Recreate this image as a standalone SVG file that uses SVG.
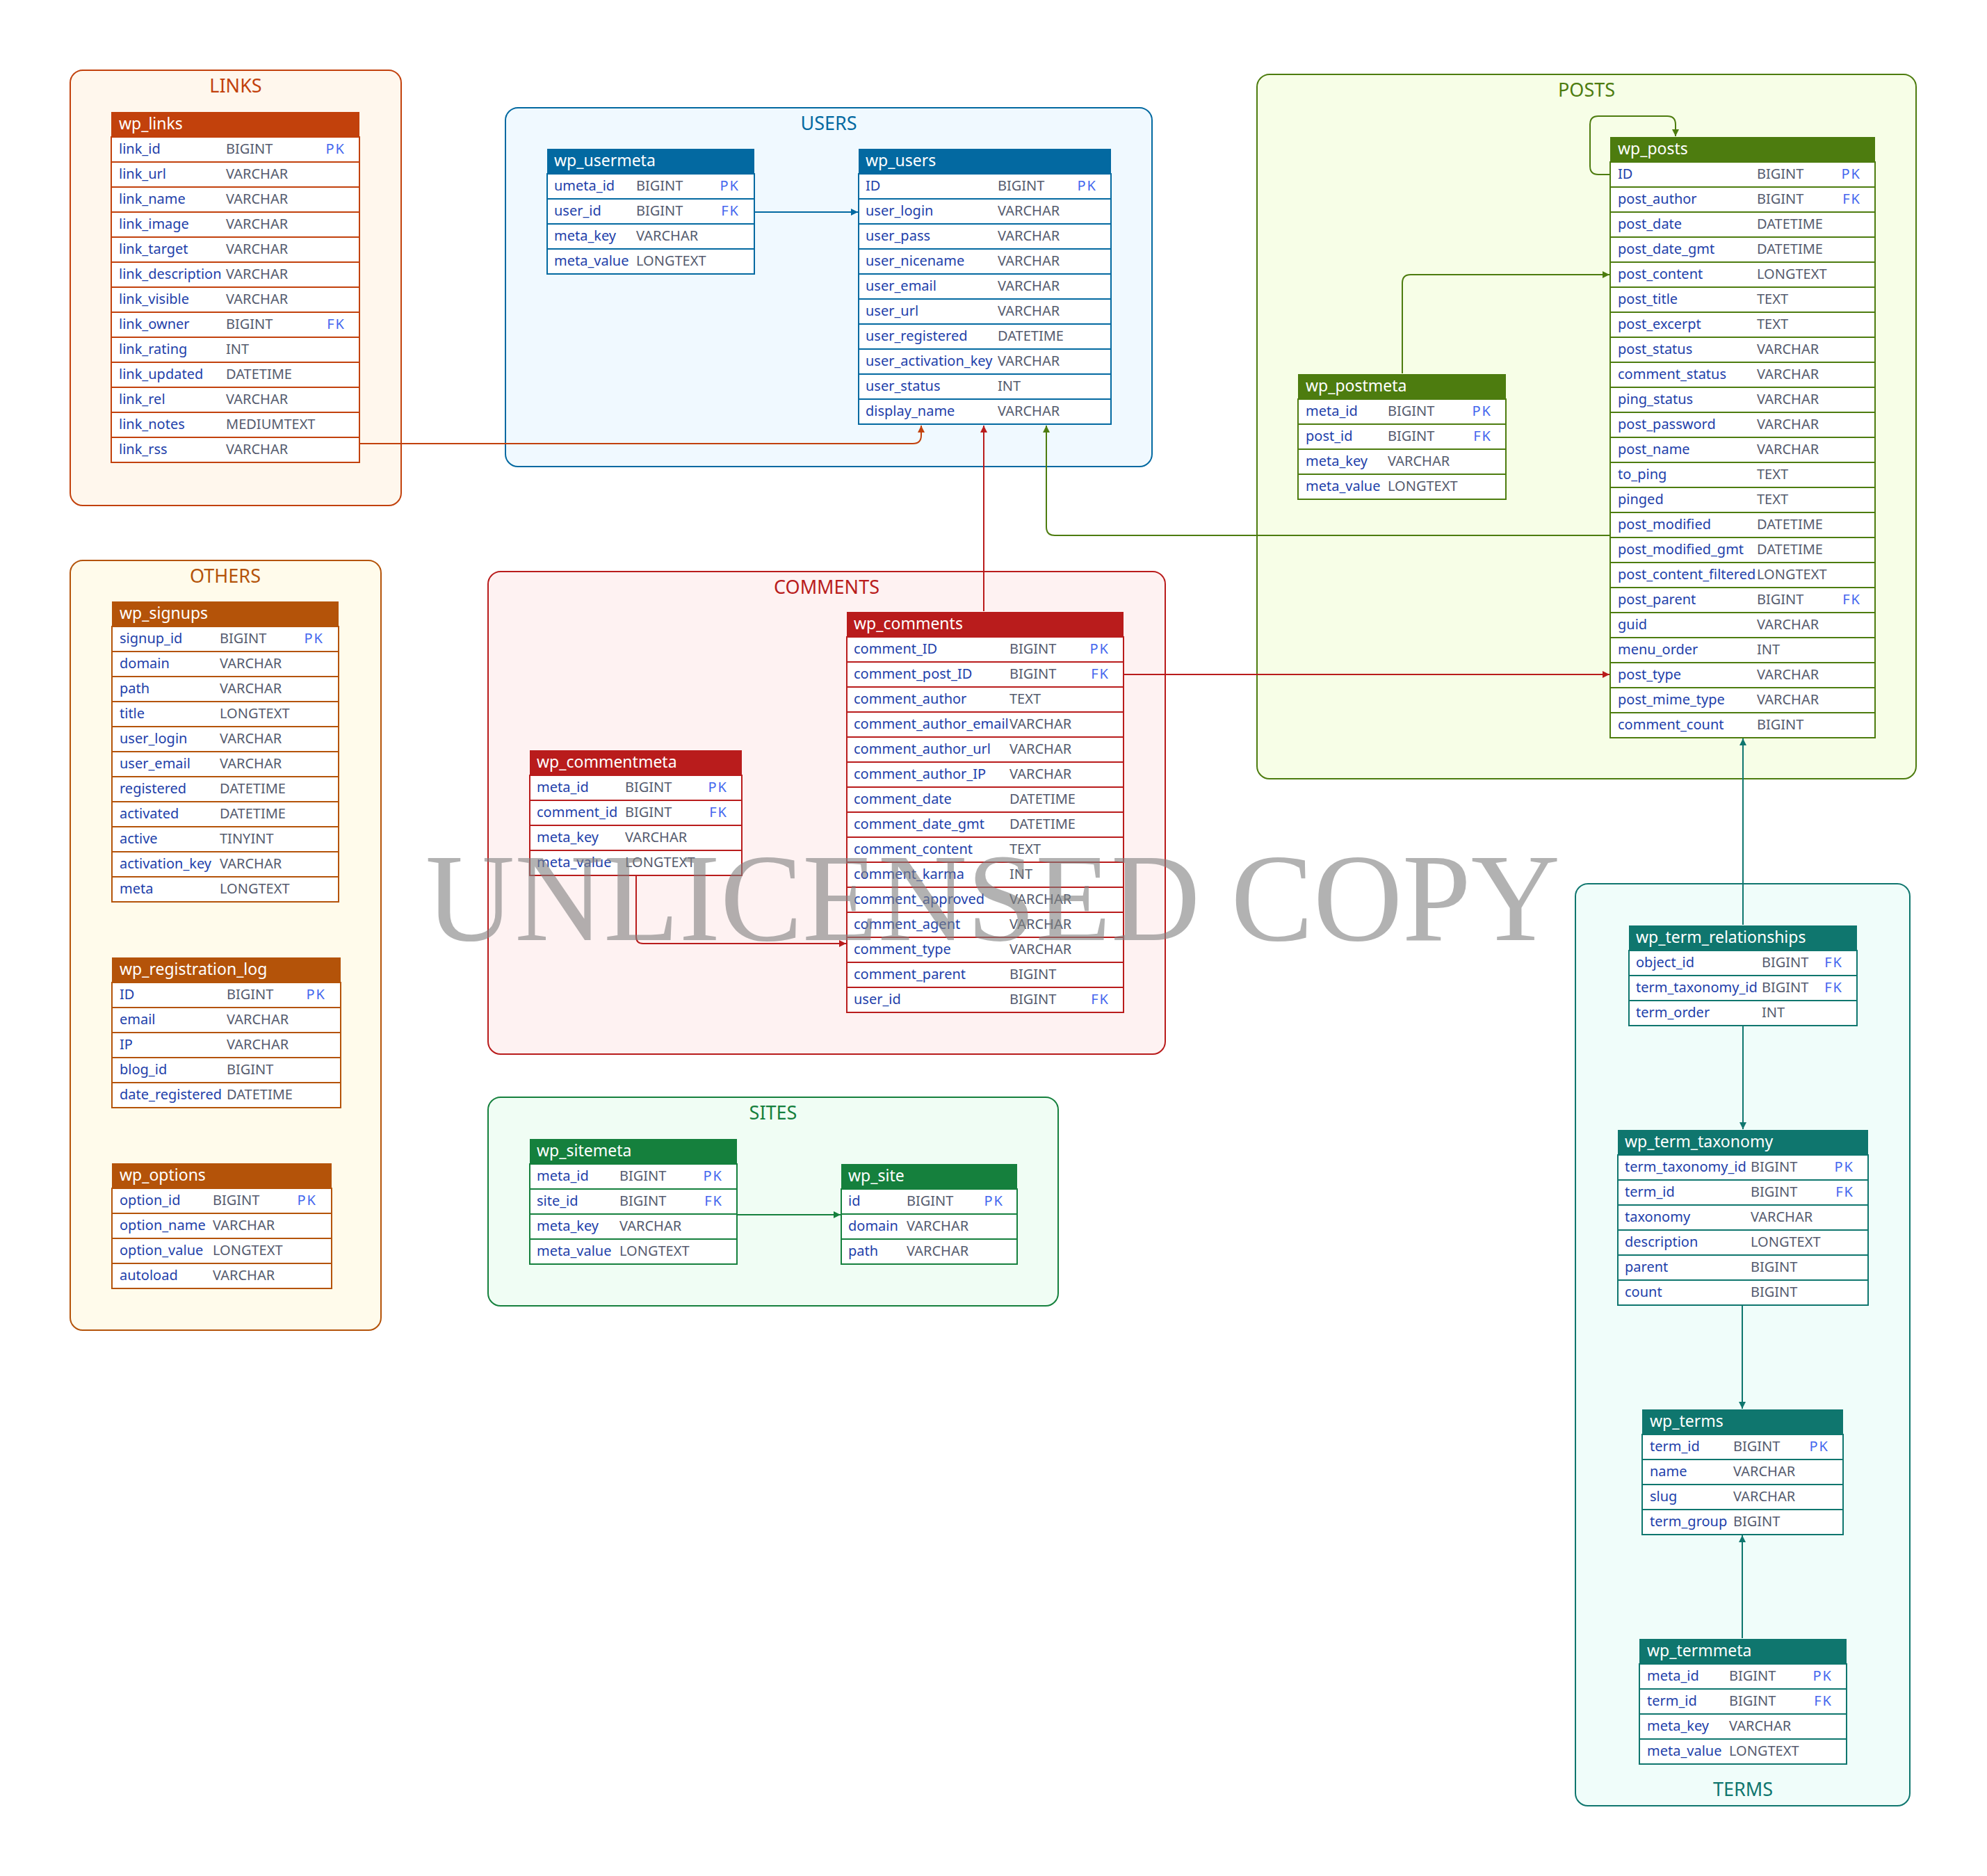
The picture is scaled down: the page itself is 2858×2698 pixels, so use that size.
<svg xmlns="http://www.w3.org/2000/svg" width="2858" height="2698" viewBox="0 0 2858 2698">
<style>
text{font-family:"Noto Sans","DejaVu Sans",sans-serif}
.gt{font-size:27px;text-anchor:middle}
.th{font-size:23px;fill:#ffffff}
.cn{font-size:20px;fill:#1e3faa}
.ct{font-size:20px;fill:#555b6e}
.ck{font-size:20px;fill:#4466ee;text-anchor:end;letter-spacing:2px}
.bd{fill:#ffffff;stroke-width:2}
.sep{fill:none;stroke-width:2}
.cl{stroke-width:2}
.cn-l{fill:none;stroke-width:2}
.links .hd{fill:#c2410c}.links .bd,.links .sep{stroke:#c2410c}.links .gt{fill:#c2410c}.links .cl{fill:#fff7ed;stroke:#c2410c}
.users .hd{fill:#0369a1}.users .bd,.users .sep{stroke:#0369a1}.users .gt{fill:#0369a1}.users .cl{fill:#f0f9ff;stroke:#0369a1}
.posts .hd{fill:#4d7c0f}.posts .bd,.posts .sep{stroke:#4d7c0f}.posts .gt{fill:#4d7c0f}.posts .cl{fill:#f7fee7;stroke:#4d7c0f}
.others .hd{fill:#b45309}.others .bd,.others .sep{stroke:#b45309}.others .gt{fill:#b45309}.others .cl{fill:#fffbeb;stroke:#b45309}
.comments .hd{fill:#b91c1c}.comments .bd,.comments .sep{stroke:#b91c1c}.comments .gt{fill:#b91c1c}.comments .cl{fill:#fef2f2;stroke:#b91c1c}
.sites .hd{fill:#15803d}.sites .bd,.sites .sep{stroke:#15803d}.sites .gt{fill:#15803d}.sites .cl{fill:#f0fdf4;stroke:#15803d}
.terms .hd{fill:#0f766e}.terms .bd,.terms .sep{stroke:#0f766e}.terms .gt{fill:#0f766e}.terms .cl{fill:#f0fdfa;stroke:#0f766e}
.wm{font-family:"Liberation Serif","Times New Roman",serif;font-size:180px;fill:#808080;opacity:0.6}
</style>
<defs>
<marker id="aO" viewBox="0 0 10 10" refX="10" refY="5" markerWidth="10" markerHeight="10" markerUnits="userSpaceOnUse" orient="auto"><path d="M0,0 L10,5 L0,10 z" fill="#c2410c"/></marker>
<marker id="aB" viewBox="0 0 10 10" refX="10" refY="5" markerWidth="10" markerHeight="10" markerUnits="userSpaceOnUse" orient="auto"><path d="M0,0 L10,5 L0,10 z" fill="#0369a1"/></marker>
<marker id="aR" viewBox="0 0 10 10" refX="10" refY="5" markerWidth="10" markerHeight="10" markerUnits="userSpaceOnUse" orient="auto"><path d="M0,0 L10,5 L0,10 z" fill="#b91c1c"/></marker>
<marker id="aL" viewBox="0 0 10 10" refX="10" refY="5" markerWidth="10" markerHeight="10" markerUnits="userSpaceOnUse" orient="auto"><path d="M0,0 L10,5 L0,10 z" fill="#4d7c0f"/></marker>
<marker id="aG" viewBox="0 0 10 10" refX="10" refY="5" markerWidth="10" markerHeight="10" markerUnits="userSpaceOnUse" orient="auto"><path d="M0,0 L10,5 L0,10 z" fill="#15803d"/></marker>
<marker id="aT" viewBox="0 0 10 10" refX="10" refY="5" markerWidth="10" markerHeight="10" markerUnits="userSpaceOnUse" orient="auto"><path d="M0,0 L10,5 L0,10 z" fill="#0f766e"/></marker>
</defs>
<rect x="0" y="0" width="2858" height="2698" fill="#ffffff"/>

<!-- LINKS -->
<g id="cluster_links" class="links">
<rect class="cl" x="101" y="101" width="476" height="626" rx="18"/>
<text class="gt" x="339" y="133">LINKS</text>
<g id="wp_links">
<rect class="hd" x="160" y="161" width="357" height="36"/>
<rect class="bd" x="160" y="197" width="357" height="468"/>
<path class="sep" d="M160,233H517M160,269H517M160,305H517M160,341H517M160,377H517M160,413H517M160,449H517M160,485H517M160,521H517M160,557H517M160,593H517M160,629H517"/>
<text class="th" x="171" y="186">wp_links</text>
<text class="cn" x="171" y="221">link_id</text><text class="ct" x="325" y="221">BIGINT</text><text class="ck" x="497" y="221">PK</text>
<text class="cn" x="171" y="257">link_url</text><text class="ct" x="325" y="257">VARCHAR</text>
<text class="cn" x="171" y="293">link_name</text><text class="ct" x="325" y="293">VARCHAR</text>
<text class="cn" x="171" y="329">link_image</text><text class="ct" x="325" y="329">VARCHAR</text>
<text class="cn" x="171" y="365">link_target</text><text class="ct" x="325" y="365">VARCHAR</text>
<text class="cn" x="171" y="401">link_description</text><text class="ct" x="325" y="401">VARCHAR</text>
<text class="cn" x="171" y="437">link_visible</text><text class="ct" x="325" y="437">VARCHAR</text>
<text class="cn" x="171" y="473">link_owner</text><text class="ct" x="325" y="473">BIGINT</text><text class="ck" x="497" y="473">FK</text>
<text class="cn" x="171" y="509">link_rating</text><text class="ct" x="325" y="509">INT</text>
<text class="cn" x="171" y="545">link_updated</text><text class="ct" x="325" y="545">DATETIME</text>
<text class="cn" x="171" y="581">link_rel</text><text class="ct" x="325" y="581">VARCHAR</text>
<text class="cn" x="171" y="617">link_notes</text><text class="ct" x="325" y="617">MEDIUMTEXT</text>
<text class="cn" x="171" y="653">link_rss</text><text class="ct" x="325" y="653">VARCHAR</text>
</g>
</g>

<!-- USERS -->
<g id="cluster_users" class="users">
<rect class="cl" x="727" y="155" width="930" height="516" rx="18"/>
<text class="gt" x="1192" y="187">USERS</text>
<g id="wp_usermeta">
<rect class="hd" x="787" y="214" width="298" height="36"/>
<rect class="bd" x="787" y="250" width="298" height="144"/>
<path class="sep" d="M787,286H1085M787,322H1085M787,358H1085"/>
<text class="th" x="797" y="239">wp_usermeta</text>
<text class="cn" x="797" y="274">umeta_id</text><text class="ct" x="915" y="274">BIGINT</text><text class="ck" x="1064" y="274">PK</text>
<text class="cn" x="797" y="310">user_id</text><text class="ct" x="915" y="310">BIGINT</text><text class="ck" x="1064" y="310">FK</text>
<text class="cn" x="797" y="346">meta_key</text><text class="ct" x="915" y="346">VARCHAR</text>
<text class="cn" x="797" y="382">meta_value</text><text class="ct" x="915" y="382">LONGTEXT</text>
</g>
<g id="wp_users">
<rect class="hd" x="1235" y="214" width="363" height="36"/>
<rect class="bd" x="1235" y="250" width="363" height="360"/>
<path class="sep" d="M1235,286H1598M1235,322H1598M1235,358H1598M1235,394H1598M1235,430H1598M1235,466H1598M1235,502H1598M1235,538H1598M1235,574H1598"/>
<text class="th" x="1245" y="239">wp_users</text>
<text class="cn" x="1245" y="274">ID</text><text class="ct" x="1435" y="274">BIGINT</text><text class="ck" x="1578" y="274">PK</text>
<text class="cn" x="1245" y="310">user_login</text><text class="ct" x="1435" y="310">VARCHAR</text>
<text class="cn" x="1245" y="346">user_pass</text><text class="ct" x="1435" y="346">VARCHAR</text>
<text class="cn" x="1245" y="382">user_nicename</text><text class="ct" x="1435" y="382">VARCHAR</text>
<text class="cn" x="1245" y="418">user_email</text><text class="ct" x="1435" y="418">VARCHAR</text>
<text class="cn" x="1245" y="454">user_url</text><text class="ct" x="1435" y="454">VARCHAR</text>
<text class="cn" x="1245" y="490">user_registered</text><text class="ct" x="1435" y="490">DATETIME</text>
<text class="cn" x="1245" y="526">user_activation_key</text><text class="ct" x="1435" y="526">VARCHAR</text>
<text class="cn" x="1245" y="562">user_status</text><text class="ct" x="1435" y="562">INT</text>
<text class="cn" x="1245" y="598">display_name</text><text class="ct" x="1435" y="598">VARCHAR</text>
</g>
</g>

<!-- POSTS -->
<g id="cluster_posts" class="posts">
<rect class="cl" x="1808" y="107" width="948" height="1013" rx="18"/>
<text class="gt" x="2282" y="139">POSTS</text>
<g id="wp_posts">
<rect class="hd" x="2316" y="197" width="381" height="36"/>
<rect class="bd" x="2316" y="233" width="381" height="828"/>
<path class="sep" d="M2316,269H2697M2316,305H2697M2316,341H2697M2316,377H2697M2316,413H2697M2316,449H2697M2316,485H2697M2316,521H2697M2316,557H2697M2316,593H2697M2316,629H2697M2316,665H2697M2316,701H2697M2316,737H2697M2316,773H2697M2316,809H2697M2316,845H2697M2316,881H2697M2316,917H2697M2316,953H2697M2316,989H2697M2316,1025H2697"/>
<text class="th" x="2327" y="222">wp_posts</text>
<text class="cn" x="2327" y="257">ID</text><text class="ct" x="2527" y="257">BIGINT</text><text class="ck" x="2677" y="257">PK</text>
<text class="cn" x="2327" y="293">post_author</text><text class="ct" x="2527" y="293">BIGINT</text><text class="ck" x="2677" y="293">FK</text>
<text class="cn" x="2327" y="329">post_date</text><text class="ct" x="2527" y="329">DATETIME</text>
<text class="cn" x="2327" y="365">post_date_gmt</text><text class="ct" x="2527" y="365">DATETIME</text>
<text class="cn" x="2327" y="401">post_content</text><text class="ct" x="2527" y="401">LONGTEXT</text>
<text class="cn" x="2327" y="437">post_title</text><text class="ct" x="2527" y="437">TEXT</text>
<text class="cn" x="2327" y="473">post_excerpt</text><text class="ct" x="2527" y="473">TEXT</text>
<text class="cn" x="2327" y="509">post_status</text><text class="ct" x="2527" y="509">VARCHAR</text>
<text class="cn" x="2327" y="545">comment_status</text><text class="ct" x="2527" y="545">VARCHAR</text>
<text class="cn" x="2327" y="581">ping_status</text><text class="ct" x="2527" y="581">VARCHAR</text>
<text class="cn" x="2327" y="617">post_password</text><text class="ct" x="2527" y="617">VARCHAR</text>
<text class="cn" x="2327" y="653">post_name</text><text class="ct" x="2527" y="653">VARCHAR</text>
<text class="cn" x="2327" y="689">to_ping</text><text class="ct" x="2527" y="689">TEXT</text>
<text class="cn" x="2327" y="725">pinged</text><text class="ct" x="2527" y="725">TEXT</text>
<text class="cn" x="2327" y="761">post_modified</text><text class="ct" x="2527" y="761">DATETIME</text>
<text class="cn" x="2327" y="797">post_modified_gmt</text><text class="ct" x="2527" y="797">DATETIME</text>
<text class="cn" x="2327" y="833">post_content_filtered</text><text class="ct" x="2527" y="833">LONGTEXT</text>
<text class="cn" x="2327" y="869">post_parent</text><text class="ct" x="2527" y="869">BIGINT</text><text class="ck" x="2677" y="869">FK</text>
<text class="cn" x="2327" y="905">guid</text><text class="ct" x="2527" y="905">VARCHAR</text>
<text class="cn" x="2327" y="941">menu_order</text><text class="ct" x="2527" y="941">INT</text>
<text class="cn" x="2327" y="977">post_type</text><text class="ct" x="2527" y="977">VARCHAR</text>
<text class="cn" x="2327" y="1013">post_mime_type</text><text class="ct" x="2527" y="1013">VARCHAR</text>
<text class="cn" x="2327" y="1049">comment_count</text><text class="ct" x="2527" y="1049">BIGINT</text>
</g>
<g id="wp_postmeta">
<rect class="hd" x="1867" y="538" width="299" height="36"/>
<rect class="bd" x="1867" y="574" width="299" height="144"/>
<path class="sep" d="M1867,610H2166M1867,646H2166M1867,682H2166"/>
<text class="th" x="1878" y="563">wp_postmeta</text>
<text class="cn" x="1878" y="598">meta_id</text><text class="ct" x="1996" y="598">BIGINT</text><text class="ck" x="2146" y="598">PK</text>
<text class="cn" x="1878" y="634">post_id</text><text class="ct" x="1996" y="634">BIGINT</text><text class="ck" x="2146" y="634">FK</text>
<text class="cn" x="1878" y="670">meta_key</text><text class="ct" x="1996" y="670">VARCHAR</text>
<text class="cn" x="1878" y="706">meta_value</text><text class="ct" x="1996" y="706">LONGTEXT</text>
</g>
</g>

<!-- OTHERS -->
<g id="cluster_others" class="others">
<rect class="cl" x="101" y="806" width="447" height="1107" rx="18"/>
<text class="gt" x="324" y="838">OTHERS</text>
<g id="wp_signups">
<rect class="hd" x="161" y="865" width="326" height="36"/>
<rect class="bd" x="161" y="901" width="326" height="396"/>
<path class="sep" d="M161,937H487M161,973H487M161,1009H487M161,1045H487M161,1081H487M161,1117H487M161,1153H487M161,1189H487M161,1225H487M161,1261H487"/>
<text class="th" x="172" y="890">wp_signups</text>
<text class="cn" x="172" y="925">signup_id</text><text class="ct" x="316" y="925">BIGINT</text><text class="ck" x="466" y="925">PK</text>
<text class="cn" x="172" y="961">domain</text><text class="ct" x="316" y="961">VARCHAR</text>
<text class="cn" x="172" y="997">path</text><text class="ct" x="316" y="997">VARCHAR</text>
<text class="cn" x="172" y="1033">title</text><text class="ct" x="316" y="1033">LONGTEXT</text>
<text class="cn" x="172" y="1069">user_login</text><text class="ct" x="316" y="1069">VARCHAR</text>
<text class="cn" x="172" y="1105">user_email</text><text class="ct" x="316" y="1105">VARCHAR</text>
<text class="cn" x="172" y="1141">registered</text><text class="ct" x="316" y="1141">DATETIME</text>
<text class="cn" x="172" y="1177">activated</text><text class="ct" x="316" y="1177">DATETIME</text>
<text class="cn" x="172" y="1213">active</text><text class="ct" x="316" y="1213">TINYINT</text>
<text class="cn" x="172" y="1249">activation_key</text><text class="ct" x="316" y="1249">VARCHAR</text>
<text class="cn" x="172" y="1285">meta</text><text class="ct" x="316" y="1285">LONGTEXT</text>
</g>
<g id="wp_registration_log">
<rect class="hd" x="161" y="1377" width="329" height="36"/>
<rect class="bd" x="161" y="1413" width="329" height="180"/>
<path class="sep" d="M161,1449H490M161,1485H490M161,1521H490M161,1557H490"/>
<text class="th" x="172" y="1402">wp_registration_log</text>
<text class="cn" x="172" y="1437">ID</text><text class="ct" x="326" y="1437">BIGINT</text><text class="ck" x="469" y="1437">PK</text>
<text class="cn" x="172" y="1473">email</text><text class="ct" x="326" y="1473">VARCHAR</text>
<text class="cn" x="172" y="1509">IP</text><text class="ct" x="326" y="1509">VARCHAR</text>
<text class="cn" x="172" y="1545">blog_id</text><text class="ct" x="326" y="1545">BIGINT</text>
<text class="cn" x="172" y="1581">date_registered</text><text class="ct" x="326" y="1581">DATETIME</text>
</g>
<g id="wp_options">
<rect class="hd" x="161" y="1673" width="316" height="36"/>
<rect class="bd" x="161" y="1709" width="316" height="144"/>
<path class="sep" d="M161,1745H477M161,1781H477M161,1817H477"/>
<text class="th" x="172" y="1698">wp_options</text>
<text class="cn" x="172" y="1733">option_id</text><text class="ct" x="306" y="1733">BIGINT</text><text class="ck" x="456" y="1733">PK</text>
<text class="cn" x="172" y="1769">option_name</text><text class="ct" x="306" y="1769">VARCHAR</text>
<text class="cn" x="172" y="1805">option_value</text><text class="ct" x="306" y="1805">LONGTEXT</text>
<text class="cn" x="172" y="1841">autoload</text><text class="ct" x="306" y="1841">VARCHAR</text>
</g>
</g>

<!-- COMMENTS -->
<g id="cluster_comments" class="comments">
<rect class="cl" x="702" y="822" width="974" height="694" rx="18"/>
<text class="gt" x="1189" y="854">COMMENTS</text>
<g id="wp_comments">
<rect class="hd" x="1218" y="880" width="398" height="36"/>
<rect class="bd" x="1218" y="916" width="398" height="540"/>
<path class="sep" d="M1218,952H1616M1218,988H1616M1218,1024H1616M1218,1060H1616M1218,1096H1616M1218,1132H1616M1218,1168H1616M1218,1204H1616M1218,1240H1616M1218,1276H1616M1218,1312H1616M1218,1348H1616M1218,1384H1616M1218,1420H1616"/>
<text class="th" x="1228" y="905">wp_comments</text>
<text class="cn" x="1228" y="940">comment_ID</text><text class="ct" x="1452" y="940">BIGINT</text><text class="ck" x="1596" y="940">PK</text>
<text class="cn" x="1228" y="976">comment_post_ID</text><text class="ct" x="1452" y="976">BIGINT</text><text class="ck" x="1596" y="976">FK</text>
<text class="cn" x="1228" y="1012">comment_author</text><text class="ct" x="1452" y="1012">TEXT</text>
<text class="cn" x="1228" y="1048">comment_author_email</text><text class="ct" x="1452" y="1048">VARCHAR</text>
<text class="cn" x="1228" y="1084">comment_author_url</text><text class="ct" x="1452" y="1084">VARCHAR</text>
<text class="cn" x="1228" y="1120">comment_author_IP</text><text class="ct" x="1452" y="1120">VARCHAR</text>
<text class="cn" x="1228" y="1156">comment_date</text><text class="ct" x="1452" y="1156">DATETIME</text>
<text class="cn" x="1228" y="1192">comment_date_gmt</text><text class="ct" x="1452" y="1192">DATETIME</text>
<text class="cn" x="1228" y="1228">comment_content</text><text class="ct" x="1452" y="1228">TEXT</text>
<text class="cn" x="1228" y="1264">comment_karma</text><text class="ct" x="1452" y="1264">INT</text>
<text class="cn" x="1228" y="1300">comment_approved</text><text class="ct" x="1452" y="1300">VARCHAR</text>
<text class="cn" x="1228" y="1336">comment_agent</text><text class="ct" x="1452" y="1336">VARCHAR</text>
<text class="cn" x="1228" y="1372">comment_type</text><text class="ct" x="1452" y="1372">VARCHAR</text>
<text class="cn" x="1228" y="1408">comment_parent</text><text class="ct" x="1452" y="1408">BIGINT</text>
<text class="cn" x="1228" y="1444">user_id</text><text class="ct" x="1452" y="1444">BIGINT</text><text class="ck" x="1596" y="1444">FK</text>
</g>
<g id="wp_commentmeta">
<rect class="hd" x="762" y="1079" width="305" height="36"/>
<rect class="bd" x="762" y="1115" width="305" height="144"/>
<path class="sep" d="M762,1151H1067M762,1187H1067M762,1223H1067"/>
<text class="th" x="772" y="1104">wp_commentmeta</text>
<text class="cn" x="772" y="1139">meta_id</text><text class="ct" x="899" y="1139">BIGINT</text><text class="ck" x="1047" y="1139">PK</text>
<text class="cn" x="772" y="1175">comment_id</text><text class="ct" x="899" y="1175">BIGINT</text><text class="ck" x="1047" y="1175">FK</text>
<text class="cn" x="772" y="1211">meta_key</text><text class="ct" x="899" y="1211">VARCHAR</text>
<text class="cn" x="772" y="1247">meta_value</text><text class="ct" x="899" y="1247">LONGTEXT</text>
</g>
</g>

<!-- SITES -->
<g id="cluster_sites" class="sites">
<rect class="cl" x="702" y="1578" width="820" height="300" rx="18"/>
<text class="gt" x="1112" y="1610">SITES</text>
<g id="wp_sitemeta">
<rect class="hd" x="762" y="1638" width="298" height="36"/>
<rect class="bd" x="762" y="1674" width="298" height="144"/>
<path class="sep" d="M762,1710H1060M762,1746H1060M762,1782H1060"/>
<text class="th" x="772" y="1663">wp_sitemeta</text>
<text class="cn" x="772" y="1698">meta_id</text><text class="ct" x="891" y="1698">BIGINT</text><text class="ck" x="1040" y="1698">PK</text>
<text class="cn" x="772" y="1734">site_id</text><text class="ct" x="891" y="1734">BIGINT</text><text class="ck" x="1040" y="1734">FK</text>
<text class="cn" x="772" y="1770">meta_key</text><text class="ct" x="891" y="1770">VARCHAR</text>
<text class="cn" x="772" y="1806">meta_value</text><text class="ct" x="891" y="1806">LONGTEXT</text>
</g>
<g id="wp_site">
<rect class="hd" x="1210" y="1674" width="253" height="36"/>
<rect class="bd" x="1210" y="1710" width="253" height="108"/>
<path class="sep" d="M1210,1746H1463M1210,1782H1463"/>
<text class="th" x="1220" y="1699">wp_site</text>
<text class="cn" x="1220" y="1734">id</text><text class="ct" x="1304" y="1734">BIGINT</text><text class="ck" x="1444" y="1734">PK</text>
<text class="cn" x="1220" y="1770">domain</text><text class="ct" x="1304" y="1770">VARCHAR</text>
<text class="cn" x="1220" y="1806">path</text><text class="ct" x="1304" y="1806">VARCHAR</text>
</g>
</g>

<!-- TERMS -->
<g id="cluster_terms" class="terms">
<rect class="cl" x="2266" y="1271" width="481" height="1326" rx="18"/>
<text class="gt" x="2507" y="2583">TERMS</text>
<g id="wp_term_relationships">
<rect class="hd" x="2343" y="1331" width="328" height="36"/>
<rect class="bd" x="2343" y="1367" width="328" height="108"/>
<path class="sep" d="M2343,1403H2671M2343,1439H2671"/>
<text class="th" x="2353" y="1356">wp_term_relationships</text>
<text class="cn" x="2353" y="1391">object_id</text><text class="ct" x="2534" y="1391">BIGINT</text><text class="ck" x="2651" y="1391">FK</text>
<text class="cn" x="2353" y="1427">term_taxonomy_id</text><text class="ct" x="2534" y="1427">BIGINT</text><text class="ck" x="2651" y="1427">FK</text>
<text class="cn" x="2353" y="1463">term_order</text><text class="ct" x="2534" y="1463">INT</text>
</g>
<g id="wp_term_taxonomy">
<rect class="hd" x="2327" y="1625" width="360" height="36"/>
<rect class="bd" x="2327" y="1661" width="360" height="216"/>
<path class="sep" d="M2327,1697H2687M2327,1733H2687M2327,1769H2687M2327,1805H2687M2327,1841H2687"/>
<text class="th" x="2337" y="1650">wp_term_taxonomy</text>
<text class="cn" x="2337" y="1685">term_taxonomy_id</text><text class="ct" x="2518" y="1685">BIGINT</text><text class="ck" x="2667" y="1685">PK</text>
<text class="cn" x="2337" y="1721">term_id</text><text class="ct" x="2518" y="1721">BIGINT</text><text class="ck" x="2667" y="1721">FK</text>
<text class="cn" x="2337" y="1757">taxonomy</text><text class="ct" x="2518" y="1757">VARCHAR</text>
<text class="cn" x="2337" y="1793">description</text><text class="ct" x="2518" y="1793">LONGTEXT</text>
<text class="cn" x="2337" y="1829">parent</text><text class="ct" x="2518" y="1829">BIGINT</text>
<text class="cn" x="2337" y="1865">count</text><text class="ct" x="2518" y="1865">BIGINT</text>
</g>
<g id="wp_terms">
<rect class="hd" x="2362" y="2027" width="289" height="36"/>
<rect class="bd" x="2362" y="2063" width="289" height="144"/>
<path class="sep" d="M2362,2099H2651M2362,2135H2651M2362,2171H2651"/>
<text class="th" x="2373" y="2052">wp_terms</text>
<text class="cn" x="2373" y="2087">term_id</text><text class="ct" x="2493" y="2087">BIGINT</text><text class="ck" x="2631" y="2087">PK</text>
<text class="cn" x="2373" y="2123">name</text><text class="ct" x="2493" y="2123">VARCHAR</text>
<text class="cn" x="2373" y="2159">slug</text><text class="ct" x="2493" y="2159">VARCHAR</text>
<text class="cn" x="2373" y="2195">term_group</text><text class="ct" x="2493" y="2195">BIGINT</text>
</g>
<g id="wp_termmeta">
<rect class="hd" x="2358" y="2357" width="298" height="36"/>
<rect class="bd" x="2358" y="2393" width="298" height="144"/>
<path class="sep" d="M2358,2429H2656M2358,2465H2656M2358,2501H2656"/>
<text class="th" x="2369" y="2382">wp_termmeta</text>
<text class="cn" x="2369" y="2417">meta_id</text><text class="ct" x="2487" y="2417">BIGINT</text><text class="ck" x="2636" y="2417">PK</text>
<text class="cn" x="2369" y="2453">term_id</text><text class="ct" x="2487" y="2453">BIGINT</text><text class="ck" x="2636" y="2453">FK</text>
<text class="cn" x="2369" y="2489">meta_key</text><text class="ct" x="2487" y="2489">VARCHAR</text>
<text class="cn" x="2369" y="2525">meta_value</text><text class="ct" x="2487" y="2525">LONGTEXT</text>
</g>
</g>

<!-- CONNECTORS -->
<g id="connectors" fill="none" stroke-width="2">
<path d="M518,638H1313Q1325,638 1325,626V612" stroke="#c2410c" marker-end="url(#aO)"/>
<path d="M1086,305H1234" stroke="#0369a1" marker-end="url(#aB)"/>
<path d="M1415,879V612" stroke="#b91c1c" marker-end="url(#aR)"/>
<path d="M2315,770H1517Q1505,770 1505,758V612" stroke="#4d7c0f" marker-end="url(#aL)"/>
<path d="M2017,537V407Q2017,395 2029,395H2315" stroke="#4d7c0f" marker-end="url(#aL)"/>
<path d="M2315,251H2299Q2287,251 2287,239V179Q2287,167 2299,167H2398Q2410,167 2410,179V196" stroke="#4d7c0f" marker-end="url(#aL)"/>
<path d="M1617,970H2315" stroke="#b91c1c" marker-end="url(#aR)"/>
<path d="M915,1260V1347Q915,1357 925,1357H1217" stroke="#b91c1c" marker-end="url(#aR)"/>
<path d="M1061,1747H1209" stroke="#15803d" marker-end="url(#aG)"/>
<path d="M2507,1330V1062" stroke="#0f766e" marker-end="url(#aT)"/>
<path d="M2507,1476V1624" stroke="#0f766e" marker-end="url(#aT)"/>
<path d="M2506,1878V2026" stroke="#0f766e" marker-end="url(#aT)"/>
<path d="M2506,2356V2208" stroke="#0f766e" marker-end="url(#aT)"/>
</g>

<text class="wm" x="612" y="1352" textLength="1632" lengthAdjust="spacingAndGlyphs">UNLICENSED COPY</text>
</svg>
